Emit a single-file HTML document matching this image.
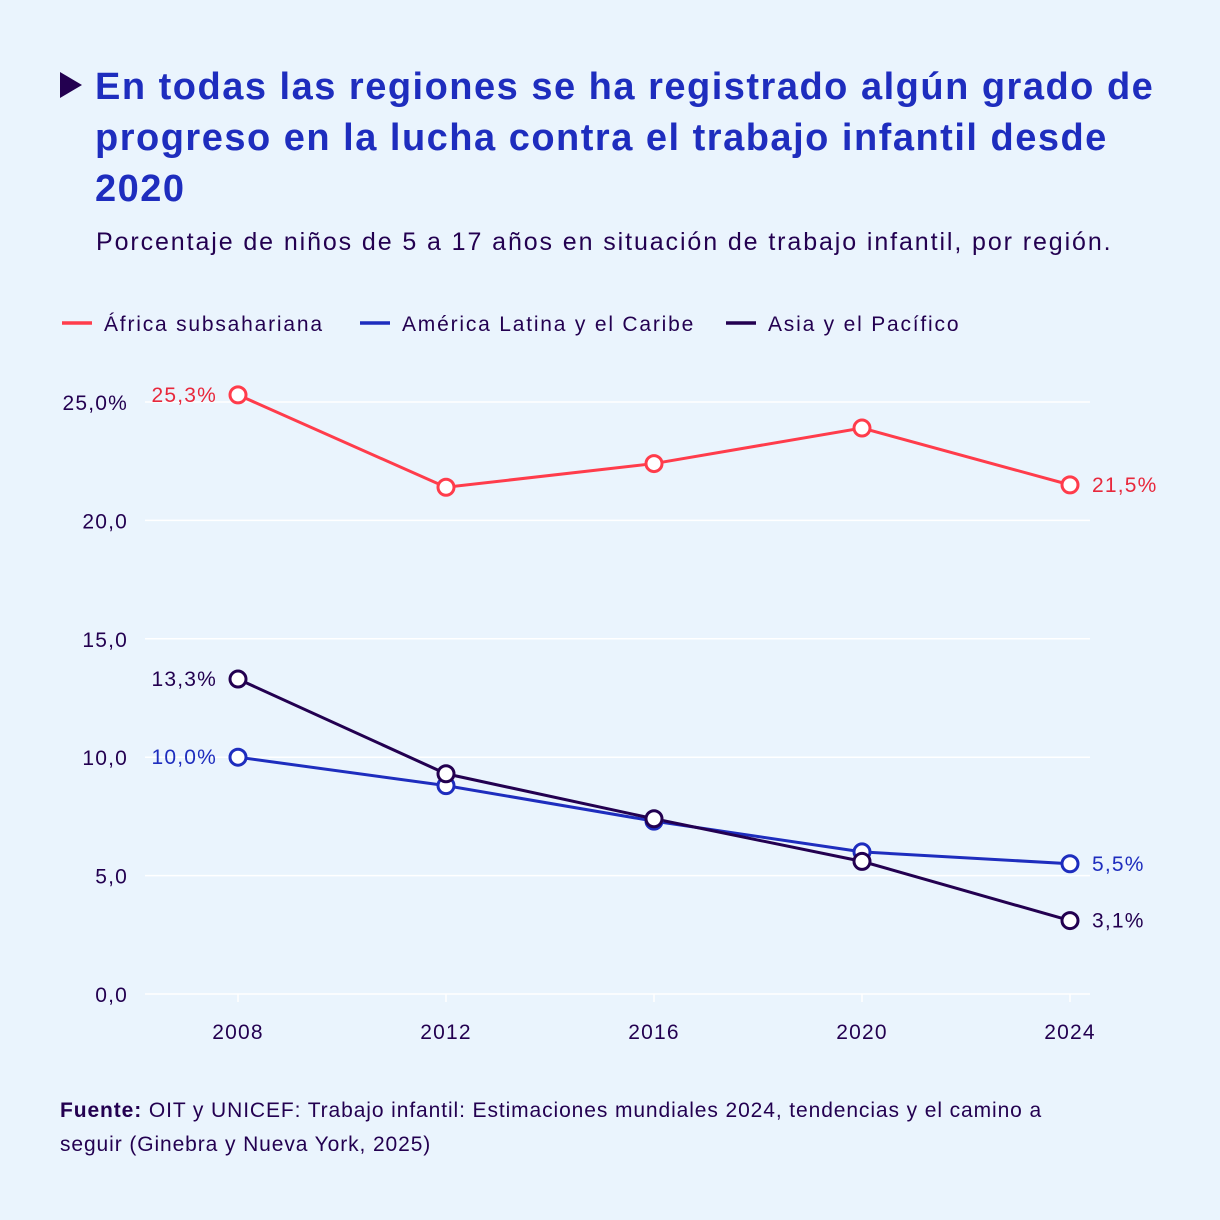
<!DOCTYPE html>
<html><head><meta charset="utf-8">
<style>
html,body{margin:0;padding:0;background:#EAF4FD;}
body{width:1220px;height:1220px;position:relative;font-family:"Liberation Sans",sans-serif;overflow:hidden;}
.title{position:absolute;left:95px;top:62px;width:1120px;font-size:38px;font-weight:bold;color:#1E2DBE;line-height:51px;letter-spacing:1.5px;white-space:nowrap;}
.tri{position:absolute;left:60px;top:72px;width:0;height:0;border-left:22px solid #230050;border-top:13px solid transparent;border-bottom:13px solid transparent;}
.sub{position:absolute;left:96px;top:228px;font-size:25px;color:#230050;letter-spacing:1.9px;white-space:nowrap;}
.src{position:absolute;left:60px;top:1094px;width:1140px;font-size:21px;line-height:34px;color:#230050;letter-spacing:0.9px;white-space:nowrap;}
svg{position:absolute;left:0;top:0;}
</style></head><body>
<div class="tri"></div>
<div class="title">En todas las regiones se ha registrado algún grado de<br>progreso en la lucha contra el trabajo infantil desde<br>2020</div>
<div class="sub">Porcentaje de niños de 5 a 17 años en situación de trabajo infantil, por región.</div>
<svg id="chart" width="1220" height="1220"></svg>
<div class="src"><b>Fuente:</b> OIT y UNICEF: Trabajo infantil: Estimaciones mundiales 2024, tendencias y el camino a<br>seguir (Ginebra y Nueva York, 2025)</div>
<script>
const years = [2008, 2012, 2016, 2020, 2024];
const africa = [25.3, 21.4, 22.4, 23.9, 21.5];
const latam = [10.0, 8.8, 7.3, 6.0, 5.5];
const asia = [13.3, 9.3, 7.4, 5.6, 3.1];
const yTicks = [0, 5, 10, 15, 20, 25];
const yTickLabels = ["0,0", "5,0", "10,0", "15,0", "20,0", "25,0%"];
const seriesNames = ["África subsahariana", "América Latina y el Caribe", "Asia y el Pacífico"];

const NS = "http://www.w3.org/2000/svg";
const svg = document.getElementById("chart");
const x = v => 238 + (v - 2008) * 52;
const y = v => 994 - v * 23.68;
function mk(tag, attrs, parent) {
  const e = document.createElementNS(NS, tag);
  for (const k in attrs) e.setAttribute(k, attrs[k]);
  (parent || svg).appendChild(e);
  return e;
}
const fmt = v => v.toFixed(1).replace(".", ",") + "%";

yTicks.forEach((t, i) => {
  const l = mk("line", {x1: 145, x2: 1090, y1: y(t), y2: y(t), stroke: "#ffffff", "stroke-width": 1.5});
  
  
  const tx = mk("text", {x: 128, y: y(t) + 8, "text-anchor": "end", "font-size": 21, fill: "#230050", "letter-spacing": 1.2});
  tx.textContent = yTickLabels[i];
  
  
});
years.forEach(yr => {
  const tk = mk("line", {x1: x(yr), x2: x(yr), y1: 994, y2: 1002, stroke: "#ffffff", "stroke-width": 1.5});
  
  
  const tx = mk("text", {x: x(yr), y: 1039, "text-anchor": "middle", "font-size": 21, fill: "#230050", "letter-spacing": 1.2});
  tx.textContent = yr;
  
  
});

const series = [
  {data: africa, color: "#FF3C4B", name: "africa", label: "#E8283C"},
  {data: latam, color: "#1E2DBE", name: "latam", label: "#1E2DBE"},
  {data: asia, color: "#230050", name: "asia", label: "#230050"}
];
series.forEach(s => {
  const pts = s.data.map((v, i) => x(years[i]) + "," + y(v)).join(" ");
  const pl = mk("polyline", {points: pts, fill: "none", stroke: s.color, "stroke-width": 3});
  
  
});
series.forEach(s => {
  s.data.forEach((v, i) => {
    const c = mk("circle", {cx: x(years[i]), cy: y(v), r: 8, fill: "#ffffff", stroke: s.color, "stroke-width": 3});
    
    
  });
  const first = s.data[0], last = s.data[s.data.length - 1];
  const t1 = mk("text", {x: x(years[0]) - 21, y: y(first) + 7, "text-anchor": "end", "font-size": 21, fill: s.label, "letter-spacing": 1.2});
  t1.textContent = fmt(first);
  
  
  const t2 = mk("text", {x: x(years[years.length - 1]) + 22, y: y(last) + 7, "font-size": 21, fill: s.label, "letter-spacing": 1.2});
  t2.textContent = fmt(last);
  
  
});

const legendX = [62, 360, 726];
series.forEach((s, i) => {
  const g = mk("g", {});
  
  
  mk("line", {x1: legendX[i], x2: legendX[i] + 30, y1: 323, y2: 323, stroke: s.color, "stroke-width": 3.5}, g);
  const t = mk("text", {x: legendX[i] + 42, y: 331, "font-size": 21, fill: "#230050", "letter-spacing": 1.8}, g);
  t.textContent = seriesNames[i];
});
</script>
</body></html>
